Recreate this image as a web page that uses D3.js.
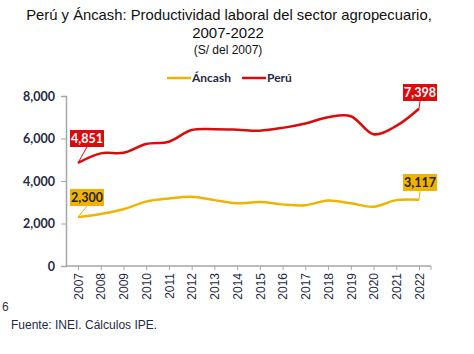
<!DOCTYPE html>
<html><head><meta charset="utf-8">
<script src="https://cdn.jsdelivr.net/npm/d3@7"></script>
<style>body{margin:0;background:#fff}svg{display:block}</style>
</head><body><svg id="c" width="474" height="354"></svg>
<script>
const years = ["2007","2008","2009","2010","2011","2012","2013","2014","2015","2016","2017","2018","2019","2020","2021","2022"];
const peru = [4851,5300,5330,5740,5850,6400,6440,6415,6370,6500,6710,7000,7050,6200,6590,7398];
const ancash = [2300,2450,2670,3030,3180,3260,3100,2950,3010,2900,2860,3080,2950,2790,3100,3117];
const yTicks = [0,2000,4000,6000,8000];
const seriesNames = ["Áncash","Perú"];
const colors = {"Áncash":"#f2b300","Perú":"#dc0a0a"};

const svg = d3.select("#c");
const fmt = d3.format(",");
const x = d3.scalePoint().domain(years).range([78,419]);
const y = d3.scaleLinear().domain([0,8000]).range([266,96]);

// title
const tf = "Liberation Sans, Arial, sans-serif";
svg.append("text").attr("x",229).attr("y",20).attr("text-anchor","middle").attr("font-family",tf).attr("font-size",14.8).attr("fill","#111").text("Perú y Áncash: Productividad laboral del sector agropecuario,");
svg.append("text").attr("x",228).attr("y",38).attr("text-anchor","middle").attr("font-family",tf).attr("font-size",15).attr("fill","#111").text("2007-2022");
svg.append("text").attr("x",228).attr("y",54).attr("text-anchor","middle").attr("font-family",tf).attr("font-size",12).attr("fill","#111").text("(S/ del 2007)");

// legend
const lf = "Lato, Open Sans, sans-serif";
const leg = [{n:"Áncash",x:167},{n:"Perú",x:242}];
leg.forEach(l=>{
  svg.append("line").attr("x1",l.x).attr("x2",l.x+24).attr("y1",78).attr("y2",78).attr("stroke",colors[l.n]).attr("stroke-width",2.5);
  svg.append("text").attr("x",l.x+25).attr("y",82).attr("font-family",lf).attr("font-weight","bold").attr("font-size",12).attr("fill","#1f2a44").text(l.n);
});

// axes
const gy = svg.append("g").attr("transform","translate(66,0)")
  .call(d3.axisLeft(y).tickValues(yTicks).tickFormat(fmt).tickSize(5).tickPadding(6));
gy.select(".domain").attr("stroke","#a6a6a6").attr("stroke-width",1.5);
gy.selectAll(".tick line").attr("stroke","#a6a6a6");
gy.selectAll("text").attr("font-family",lf).attr("font-weight","bold").attr("font-size",12.5).attr("fill","#1f2a44");

const gx = svg.append("g").attr("transform","translate(0,266)")
  .call(d3.axisBottom(x).tickSize(4).tickSizeOuter(0).tickPadding(6));
gx.select(".domain").attr("d","M66,0H431").attr("stroke","#a6a6a6").attr("stroke-width",1.5);
gx.selectAll(".tick line").attr("stroke","#a6a6a6");
gx.append("line").attr("x1",431).attr("x2",431).attr("y1",0).attr("y2",4).attr("stroke","#a6a6a6");
gx.selectAll(".tick text").attr("font-family",tf).attr("font-size",12).attr("fill","#1f2a44")
  .attr("transform","rotate(-90)").attr("text-anchor","end").attr("dy","0.35em").attr("x",-7).attr("y",0);

// lines
const line = d3.line().x((d,i)=>x(years[i])).y(d=>y(d)).curve(d3.curveCatmullRom.alpha(0.5));
svg.append("path").datum(ancash).attr("d",line).attr("fill","none").attr("stroke",colors["Áncash"]).attr("stroke-width",2.5);
svg.append("path").datum(peru).attr("d",line).attr("fill","none").attr("stroke",colors["Perú"]).attr("stroke-width",2.5);

// data labels
function label(series, idx, bx, by, fill, tc){
  const v = series[idx];
  const px = x(years[idx]), py = y(v);
  const w=34, h=17;
  svg.append("line").attr("x1",px).attr("y1",py).attr("x2",bx+w/2).attr("y2",by+h).attr("stroke",fill).attr("stroke-width",1);
  svg.append("rect").attr("x",bx).attr("y",by).attr("width",w).attr("height",h).attr("fill",fill);
  svg.append("text").attr("x",bx+w/2).attr("y",by+13).attr("text-anchor","middle").attr("font-family",lf).attr("font-weight","bold").attr("font-size",12.5).attr("fill",tc).text(fmt(v));
}
label(peru,0,70,130,colors["Perú"],"#fff");
label(ancash,0,70,189,colors["Áncash"],"#222");
label(peru,15,403,84,colors["Perú"],"#fff");
label(ancash,15,403,174,colors["Áncash"],"#222");

svg.append("text").attr("x",2).attr("y",311).attr("font-family",tf).attr("font-size",12).attr("fill","#333").text("6");
svg.append("text").attr("x",11).attr("y",329).attr("font-family",tf).attr("font-size",12).attr("fill","#1f2a44").text("Fuente: INEI. Cálculos IPE.");
</script></body></html>
